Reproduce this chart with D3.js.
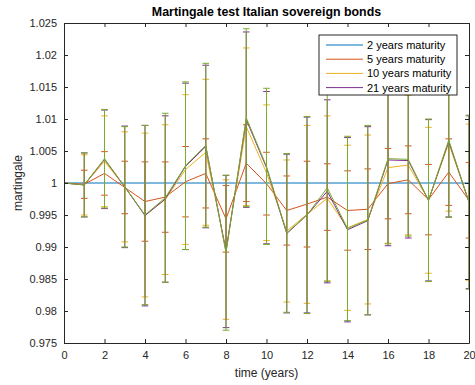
<!DOCTYPE html>
<html>
<head>
<meta charset="utf-8">
<script src="https://cdn.jsdelivr.net/npm/d3@7"></script>
<style>
  body { margin: 0; background: #fff; }
  svg { display: block; font-family: "Liberation Sans", Arial, sans-serif; }
  .axis path, .axis line { stroke: #262626; }
  .axis text { fill: #262626; font-size: 11px; }
</style>
</head>
<body>
<div id="chart"></div>
<script>
// Chart size and plot box
const width = 475;
const height = 385;
const margin = { top: 23, right: 6, bottom: 42, left: 64 };
const innerWidth = width - margin.left - margin.right;
const innerHeight = height - margin.top - margin.bottom;

// Data
const years = [0, 1, 2, 3, 4, 5, 6, 7, 8, 9, 10, 11, 12, 13, 14, 15, 16, 17, 18, 19, 20];
const seriesNames = ["2 years maturity", "5 years maturity", "10 years maturity", "21 years maturity", "30 years maturity"];
const seriesColors = ["#0072BD", "#D95319", "#EDB120", "#7E2F8E", "#77AC30"];
const legendCount = 4;

const mean2 = [1, 1, 1, 1, 1, 1, 1, 1, 1, 1, 1, 1, 1, 1, 1, 1, 1, 1, 1, 1, 1];
const err2 = [0, 0, 0, 0, 0, 0, 0, 0, 0, 0, 0, 0, 0, 0, 0, 0, 0, 0, 0, 0, 0];

const mean5 = [1, 0.9998, 1.0015, 0.9993, 0.9971, 0.9978, 1.0002, 1.0015, 0.9944, 1.0031, 0.9999,
               0.9957, 0.9967, 0.9978, 0.9957, 0.9959, 0.9999, 1.0005, 0.9974, 1.0017, 0.9973];
const err5 = [0, 0.0022, 0.0034, 0.0041, 0.0062, 0.0055, 0.0055, 0.0054, 0.0052, 0.0060, 0.0049,
              0.0054, 0.0067, 0.0052, 0.0062, 0.0063, 0.0055, 0.0053, 0.0055, 0.0052, 0.0059];

const mean10 = [1, 0.9997, 1.0034, 0.9994, 0.9950, 0.9974, 1.0021, 1.0048, 0.9896, 1.0088, 1.0016,
                0.9925, 0.9951, 0.9976, 0.9930, 0.9943, 1.0024, 1.0028, 0.9973, 1.0062, 0.9970];
const err10 = [0, 0.0047, 0.0071, 0.0086, 0.0128, 0.0117, 0.0117, 0.0114, 0.0109, 0.0123, 0.0106,
               0.0111, 0.0139, 0.0129, 0.0129, 0.0132, 0.0118, 0.0109, 0.0114, 0.0106, 0.0122];

const mean21 = [1, 0.9997, 1.0037, 0.9994, 0.9949, 0.9975, 1.0026, 1.0057, 0.9893, 1.0099, 1.0024,
                0.9921, 0.9950, 0.9987, 0.9927, 0.9941, 1.0036, 1.0035, 0.9973, 1.0065, 0.9970];
const err21 = [0, 0.0050, 0.0077, 0.0095, 0.0141, 0.0130, 0.0130, 0.0127, 0.0119, 0.0137, 0.0119,
               0.0124, 0.0153, 0.0143, 0.0144, 0.0147, 0.0134, 0.0121, 0.0126, 0.0118, 0.0135];

const mean30 = [1, 0.9997, 1.0038, 0.9994, 0.9950, 0.9977, 1.0027, 1.0059, 0.9891, 1.0102, 1.0026,
                0.9922, 0.9950, 0.99925, 0.9929, 0.9942, 1.0038, 1.0037, 0.9973, 1.0067, 0.9970];
const err30 = [0, 0.0050, 0.0077, 0.0094, 0.0140, 0.0132, 0.0131, 0.0128, 0.0121, 0.0139, 0.0122,
               0.0124, 0.0154, 0.0146, 0.0144, 0.0148, 0.0133, 0.0120, 0.0127, 0.0121, 0.0136];

const xTicks = [0, 2, 4, 6, 8, 10, 12, 14, 16, 18, 20];
const yTicks = [0.975, 0.98, 0.985, 0.99, 0.995, 1, 1.005, 1.01, 1.015, 1.02, 1.025];

const means = [mean2, mean5, mean10, mean21, mean30];
const errs = [err2, err5, err10, err21, err30];

// Build one record list per series
const series = means.map((m, s) => ({
    name: seriesNames[s],
    color: seriesColors[s],
    points: years.map((yr, i) => ({ x: yr, y: m[i], e: errs[s][i] }))
}));

const svg = d3.select('#chart')
    .append('svg')
    .attr('width', width)
    .attr('height', height);

const g = svg.append('g')
    .attr('transform', `translate(${margin.left},${margin.top})`);

// Scales
const xScale = d3.scaleLinear().domain([0, 20]).range([0, innerWidth]);
const yScale = d3.scaleLinear().domain([0.975, 1.025]).range([innerHeight, 0]);

// Clip data to the axes box
svg.append('defs').append('clipPath')
    .attr('id', 'plot-clip')
    .append('rect')
    .attr('width', innerWidth)
    .attr('height', innerHeight);

const plot = g.append('g').attr('clip-path', 'url(#plot-clip)');

const line = d3.line()
    .x(d => xScale(d.x))
    .y(d => yScale(d.y));

const capHalf = 3.3;

series.forEach(s => {
    const sg = plot.append('g').attr('class', 'series');
    const bars = s.points.filter(d => d.e > 0);

    // Error bar stems
    sg.selectAll('.stem')
        .data(bars)
        .enter()
        .append('line')
        .attr('class', 'stem')
        .attr('x1', d => xScale(d.x))
        .attr('x2', d => xScale(d.x))
        .attr('y1', d => yScale(d.y - d.e))
        .attr('y2', d => yScale(d.y + d.e))
        .style('stroke', s.color)
        .style('stroke-width', 1);

    // Caps (top and bottom)
    ['top', 'bottom'].forEach(side => {
        sg.selectAll('.cap-' + side)
            .data(bars)
            .enter()
            .append('line')
            .attr('class', 'cap-' + side)
            .attr('x1', d => xScale(d.x) - capHalf)
            .attr('x2', d => xScale(d.x) + capHalf)
            .attr('y1', d => yScale(side === 'top' ? d.y + d.e : d.y - d.e))
            .attr('y2', d => yScale(side === 'top' ? d.y + d.e : d.y - d.e))
            .style('stroke', s.color)
            .style('stroke-width', 1);
    });

    sg.append('path')
        .datum(s.points)
        .attr('d', line)
        .style('fill', 'none')
        .style('stroke', s.color)
        .style('stroke-width', 1);
});

// Axes: ticks point inward, box on all sides
g.append('g')
    .attr('class', 'axis')
    .attr('transform', `translate(0,${innerHeight})`)
    .call(d3.axisBottom(xScale).tickValues(xTicks).tickSizeInner(-4).tickSizeOuter(0).tickPadding(8));

g.append('g')
    .attr('class', 'axis')
    .call(d3.axisLeft(yScale).tickValues(yTicks).tickFormat(d3.format('~g'))
        .tickSizeInner(-4).tickSizeOuter(0).tickPadding(7));

g.append('g')
    .attr('class', 'axis')
    .call(d3.axisTop(xScale).tickValues(xTicks).tickSizeInner(-4).tickSizeOuter(0))
    .call(a => a.selectAll('text').remove());

g.append('g')
    .attr('class', 'axis')
    .attr('transform', `translate(${innerWidth},0)`)
    .call(d3.axisRight(yScale).tickValues(yTicks).tickSizeInner(-4).tickSizeOuter(0))
    .call(a => a.selectAll('text').remove());

// Title and axis labels
svg.append('text')
    .attr('x', margin.left + innerWidth / 2)
    .attr('y', 16)
    .attr('text-anchor', 'middle')
    .style('font-size', '12.4px')
    .style('font-weight', 'bold')
    .style('fill', '#000')
    .text('Martingale test Italian sovereign bonds');

svg.append('text')
    .attr('x', margin.left + innerWidth / 2)
    .attr('y', 377)
    .attr('text-anchor', 'middle')
    .style('font-size', '12px')
    .style('fill', '#262626')
    .text('time (years)');

svg.append('text')
    .attr('transform', `translate(22,${margin.top + innerHeight / 2}) rotate(-90)`)
    .attr('text-anchor', 'middle')
    .style('font-size', '12px')
    .style('fill', '#262626')
    .text('martingale');

// Legend (first four series only)
const legend = svg.append('g')
    .attr('transform', 'translate(319,35)');

legend.append('rect')
    .attr('width', 138)
    .attr('height', 60)
    .style('fill', '#fff')
    .style('stroke', '#262626')
    .style('stroke-width', 1);

const items = legend.selectAll('.legend-item')
    .data(series.slice(0, legendCount))
    .enter()
    .append('g')
    .attr('class', 'legend-item')
    .attr('transform', (d, i) => `translate(0,${10 + i * 14.2})`);

items.append('line')
    .attr('x1', 7)
    .attr('x2', 44)
    .attr('y1', 0)
    .attr('y2', 0)
    .style('stroke', d => d.color)
    .style('stroke-width', 1);

items.append('text')
    .attr('x', 48)
    .attr('y', 4)
    .style('font-size', '11px')
    .style('fill', '#000')
    .text(d => d.name);
</script>
</body>
</html>
